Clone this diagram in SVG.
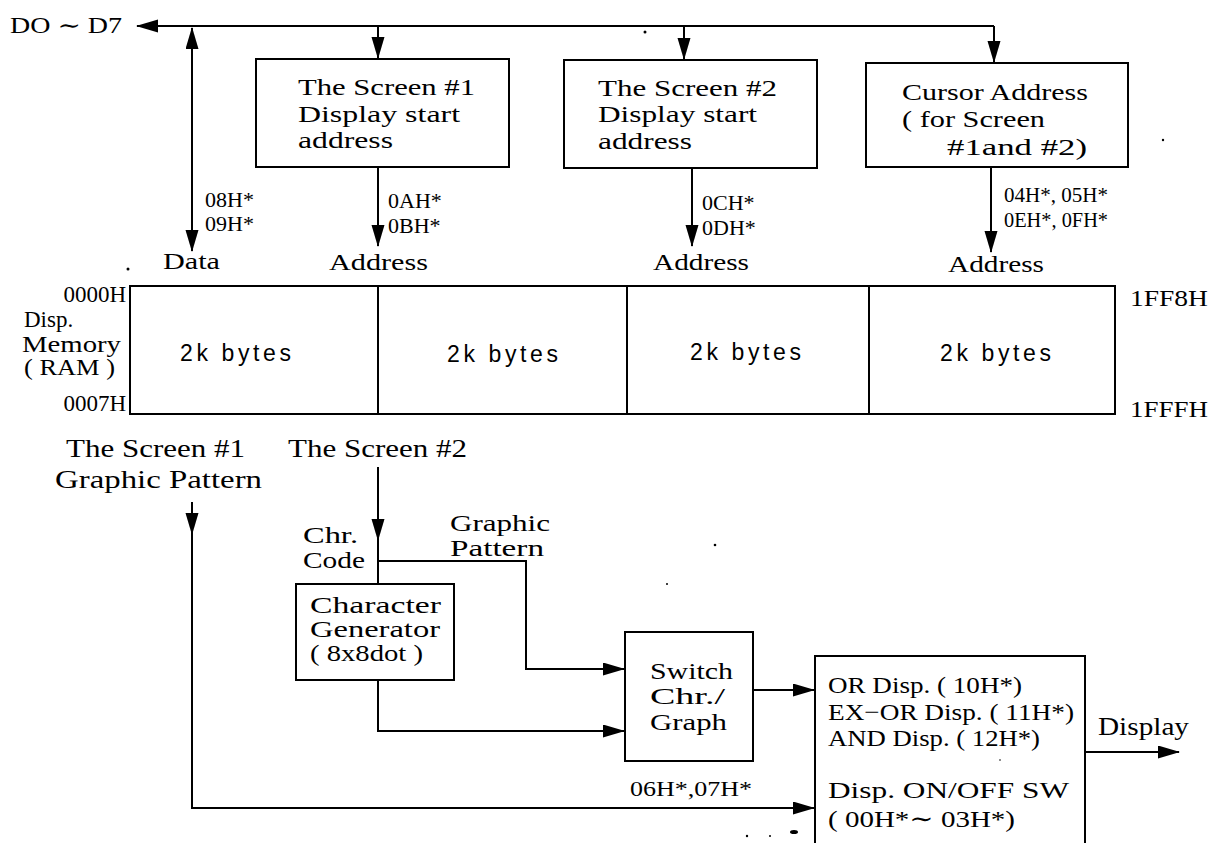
<svg xmlns="http://www.w3.org/2000/svg" width="1212" height="843" viewBox="0 0 1212 843">
<style>
.t{font-family:"Liberation Serif","DejaVu Serif",serif;fill:#000}
.s{font-family:"Liberation Sans","DejaVu Sans",sans-serif;fill:#000}
.box{fill:none;stroke:#000;stroke-width:2}
.ln{fill:none;stroke:#000;stroke-width:2}
.dot{fill:#000}
</style>
<defs>
<marker id="ah" markerUnits="userSpaceOnUse" markerWidth="24" markerHeight="14" refX="21" refY="6.5" orient="auto-start-reverse">
<path d="M0,0 L22,6.5 L0,13 z" fill="#000"/>
</marker>
</defs>
<rect width="1212" height="843" fill="#fff"/>

<g id="connectors">
<path class="ln" d="M994,26 L137,26" marker-end="url(#ah)"/>
<path class="ln" d="M994,26 L994,62" marker-end="url(#ah)"/>
<path class="ln" d="M378,26 L378,58" marker-end="url(#ah)"/>
<path class="ln" d="M684,26 L684,59" marker-end="url(#ah)"/>
<path class="ln" d="M192,28 L192,251" marker-start="url(#ah)" marker-end="url(#ah)"/>
<path class="ln" d="M378,167 L378,246" marker-end="url(#ah)"/>
<path class="ln" d="M692,169 L692,246" marker-end="url(#ah)"/>
<path class="ln" d="M991,167 L991,252" marker-end="url(#ah)"/>
<path class="ln" d="M378,467 L378,540" marker-end="url(#ah)"/>
<path class="ln" d="M378,538 L378,584"/>
<path class="ln" d="M192,502 L192,534" marker-end="url(#ah)"/>
<path class="ln" d="M192,532 L192,808 L814,808" marker-end="url(#ah)"/>
<path class="ln" d="M378,561 L526,561 L526,669 L624,669" marker-end="url(#ah)"/>
<path class="ln" d="M378,680 L378,731 L624,731" marker-end="url(#ah)"/>
<path class="ln" d="M753,690 L814,690" marker-end="url(#ah)"/>
<path class="ln" d="M1085,752 L1179,752" marker-end="url(#ah)"/>
</g>

<g id="bus-label">
<text class="t" x="10" y="33" font-size="23" textLength="112" lengthAdjust="spacingAndGlyphs">DO ∼ D7</text>
</g>

<g id="screen1-start">
<rect class="box" x="256" y="59" width="253" height="108"/>
<text class="t" x="298" y="95" font-size="24" textLength="177" lengthAdjust="spacingAndGlyphs">The Screen #1</text>
<text class="t" x="298" y="122" font-size="24" textLength="162" lengthAdjust="spacingAndGlyphs">Display start</text>
<text class="t" x="298" y="148" font-size="24" textLength="95" lengthAdjust="spacingAndGlyphs">address</text>
</g>

<g id="screen2-start">
<rect class="box" x="564" y="60" width="253" height="108"/>
<text class="t" x="598" y="96" font-size="24" textLength="179" lengthAdjust="spacingAndGlyphs">The Screen #2</text>
<text class="t" x="598" y="122" font-size="24" textLength="159" lengthAdjust="spacingAndGlyphs">Display start</text>
<text class="t" x="598" y="149" font-size="24" textLength="94" lengthAdjust="spacingAndGlyphs">address</text>
</g>

<g id="cursor-address">
<rect class="box" x="866" y="63" width="262" height="104"/>
<text class="t" x="902" y="100" font-size="24" textLength="186" lengthAdjust="spacingAndGlyphs">Cursor Address</text>
<text class="t" x="902" y="127" font-size="24" textLength="143" lengthAdjust="spacingAndGlyphs">( for Screen</text>
<text class="t" x="947" y="155" font-size="24" textLength="140" lengthAdjust="spacingAndGlyphs">#1and #2)</text>
</g>

<g id="reg-labels">
<text class="t" x="205" y="207" font-size="22">08H*</text>
<text class="t" x="205" y="231" font-size="22">09H*</text>
<text class="t" x="388" y="208" font-size="22">0AH*</text>
<text class="t" x="388" y="233" font-size="22">0BH*</text>
<text class="t" x="702" y="210" font-size="22">0CH*</text>
<text class="t" x="702" y="235" font-size="22">0DH*</text>
<text class="t" x="1004" y="202" font-size="22" textLength="104" lengthAdjust="spacingAndGlyphs">04H*, 05H*</text>
<text class="t" x="1004" y="227" font-size="22" textLength="104" lengthAdjust="spacingAndGlyphs">0EH*, 0FH*</text>
<text class="t" x="163" y="269" font-size="23" textLength="57" lengthAdjust="spacingAndGlyphs">Data</text>
<text class="t" x="329" y="270" font-size="23" textLength="99" lengthAdjust="spacingAndGlyphs">Address</text>
<text class="t" x="653" y="270" font-size="23" textLength="96" lengthAdjust="spacingAndGlyphs">Address</text>
<text class="t" x="948" y="272" font-size="23" textLength="96" lengthAdjust="spacingAndGlyphs">Address</text>
</g>

<g id="display-memory">
<rect class="box" x="130" y="286" width="985" height="128"/>
<line class="ln" x1="378" y1="286" x2="378" y2="414"/>
<line class="ln" x1="627" y1="286" x2="627" y2="414"/>
<line class="ln" x1="869" y1="286" x2="869" y2="414"/>
<text class="s" x="180" y="361" font-size="23" textLength="111" lengthAdjust="spacing">2k bytes</text>
<text class="s" x="447" y="362" font-size="23" textLength="111" lengthAdjust="spacing">2k bytes</text>
<text class="s" x="690" y="360" font-size="23" textLength="111" lengthAdjust="spacing">2k bytes</text>
<text class="s" x="940" y="361" font-size="23" textLength="111" lengthAdjust="spacing">2k bytes</text>
<text class="t" x="126" y="302" font-size="23" text-anchor="end">0000H</text>
<text class="t" x="24" y="327" font-size="23">Disp.</text>
<text class="t" x="22" y="352" font-size="23" textLength="99" lengthAdjust="spacingAndGlyphs">Memory</text>
<text class="t" x="24" y="375" font-size="23" textLength="91" lengthAdjust="spacingAndGlyphs">( RAM )</text>
<text class="t" x="126" y="411" font-size="23" text-anchor="end">0007H</text>
<text class="t" x="1130" y="306" font-size="23" textLength="78" lengthAdjust="spacingAndGlyphs">1FF8H</text>
<text class="t" x="1130" y="417" font-size="23" textLength="78" lengthAdjust="spacingAndGlyphs">1FFFH</text>
</g>

<g id="screen1-graphic">
<text class="t" x="66" y="457" font-size="26" textLength="179" lengthAdjust="spacingAndGlyphs">The Screen #1</text>
<text class="t" x="55" y="488" font-size="26" textLength="207" lengthAdjust="spacingAndGlyphs">Graphic Pattern</text>
</g>

<g id="screen2-label">
<text class="t" x="288" y="457" font-size="26" textLength="179" lengthAdjust="spacingAndGlyphs">The Screen #2</text>
<text class="t" x="303" y="543" font-size="23" textLength="55" lengthAdjust="spacingAndGlyphs">Chr.</text>
<text class="t" x="303" y="568" font-size="23" textLength="62" lengthAdjust="spacingAndGlyphs">Code</text>
<text class="t" x="450" y="531" font-size="23" textLength="100" lengthAdjust="spacingAndGlyphs">Graphic</text>
<text class="t" x="450" y="556" font-size="23" textLength="94" lengthAdjust="spacingAndGlyphs">Pattern</text>
</g>

<g id="char-gen">
<rect class="box" x="296" y="584" width="158" height="96"/>
<text class="t" x="310" y="613" font-size="23" textLength="131" lengthAdjust="spacingAndGlyphs">Character</text>
<text class="t" x="310" y="637" font-size="23" textLength="130" lengthAdjust="spacingAndGlyphs">Generator</text>
<text class="t" x="310" y="661" font-size="23" textLength="113" lengthAdjust="spacingAndGlyphs">( 8x8dot )</text>
</g>

<g id="switch">
<rect class="box" x="625" y="632" width="128" height="129"/>
<text class="t" x="650" y="679" font-size="24" textLength="83" lengthAdjust="spacingAndGlyphs">Switch</text>
<text class="t" x="650" y="704" font-size="24" textLength="75" lengthAdjust="spacingAndGlyphs">Chr./</text>
<text class="t" x="650" y="730" font-size="24" textLength="77" lengthAdjust="spacingAndGlyphs">Graph</text>
<text class="t" x="630" y="796" font-size="22" textLength="122" lengthAdjust="spacingAndGlyphs">06H*,07H*</text>
</g>

<g id="display-mode">
<path class="box" d="M815,845 L815,656 L1085,656 L1085,845"/>
<text class="t" x="828" y="693" font-size="24" textLength="194" lengthAdjust="spacingAndGlyphs">OR Disp. ( 10H*)</text>
<text class="t" x="828" y="720" font-size="24" textLength="246" lengthAdjust="spacingAndGlyphs">EX−OR Disp. ( 11H*)</text>
<text class="t" x="828" y="746" font-size="24" textLength="212" lengthAdjust="spacingAndGlyphs">AND Disp. ( 12H*)</text>
<text class="t" x="828" y="798" font-size="24" textLength="241" lengthAdjust="spacingAndGlyphs">Disp. ON/OFF  SW</text>
<text class="t" x="828" y="827" font-size="24" textLength="187" lengthAdjust="spacingAndGlyphs">( 00H*∼ 03H*)</text>
</g>

<g id="display-out">
<text class="t" x="1098" y="735" font-size="25" textLength="91" lengthAdjust="spacingAndGlyphs">Display</text>
</g>

<g id="specks">
<circle class="dot" cx="128" cy="269" r="1.5"/>
<circle class="dot" cx="645" cy="32" r="1.5"/>
<circle class="dot" cx="1163" cy="140" r="1.2"/>
<circle class="dot" cx="715" cy="545" r="1.3"/>
<circle class="dot" cx="667" cy="584" r="1"/>
<circle class="dot" cx="1000" cy="760" r="0.8"/>
<circle class="dot" cx="747" cy="836" r="1.2"/>
<circle class="dot" cx="770" cy="836" r="1"/>
<ellipse class="dot" cx="794" cy="832" rx="4" ry="2"/>
</g>
</svg>
